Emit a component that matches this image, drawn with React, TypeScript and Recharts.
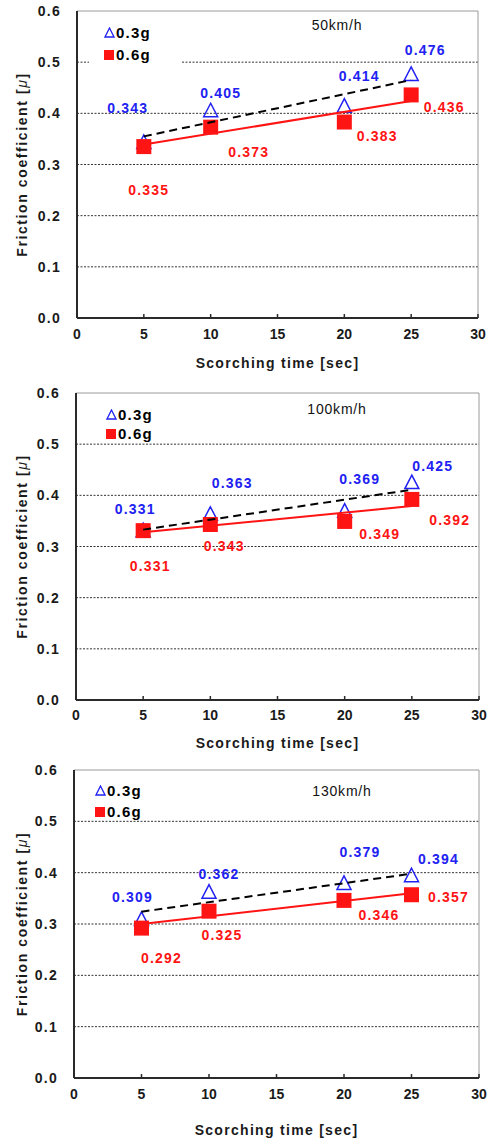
import React from 'react'
import {
  ScatterChart, Scatter, XAxis, YAxis, CartesianGrid, ReferenceLine, LabelList, Legend,
} from 'recharts'

// scorching times and axis ticks
const timeSec = [5, 10, 20, 25]
const trendSec = [5, 25]
const xTicks = [0, 5, 10, 15, 20, 25, 30]
const yTicks = [0, 0.1, 0.2, 0.3, 0.4, 0.5, 0.6]
const gridValues = [0.1, 0.2, 0.3, 0.4, 0.5]

const speedTitles = ['50km/h', '100km/h', '130km/h']
const seriesNames = ['0.3g', '0.6g']

// 50 km/h
const mu03_50 = [0.343, 0.405, 0.414, 0.476]
const mu06_50 = [0.335, 0.373, 0.383, 0.436]
const trend03_50 = [0.355, 0.465]
const trend06_50 = [0.339, 0.424]

// 100 km/h
const mu03_100 = [0.331, 0.363, 0.369, 0.425]
const mu06_100 = [0.331, 0.343, 0.349, 0.392]
const trend03_100 = [0.333, 0.411]
const trend06_100 = [0.328, 0.379]

// 130 km/h
const mu03_130 = [0.309, 0.362, 0.379, 0.394]
const mu06_130 = [0.292, 0.325, 0.346, 0.357]
const trend03_130 = [0.324, 0.398]
const trend06_130 = [0.300, 0.360]

const BLUE = '#2121f2'
const RED = '#ff1414'
const INK = '#1a1a1a'
const FONT = '"Liberation Sans", Arial, sans-serif'

// label nudges (px) from each marker centre
const shift03_50 = [[-16, -34], [10, -18], [15, -30], [14, -24]]
const shift06_50 = [[5, 43], [38, 25], [33, 14], [33, 12]]
const shift03_100 = [[-8, -22], [22, -31], [15, -32], [21, -17]]
const shift06_100 = [[7, 35], [14, 22], [35, 13], [38, 21]]
const shift03_130 = [[-9, -22], [10, -18], [16, -31], [27, -17]]
const shift06_130 = [[20, 30], [13, 24], [35, 15], [37, 2]]

const panels = [
  {
    title: speedTitles[0], a: mu03_50, b: mu06_50, ta: trend03_50, tb: trend06_50,
    sa: shift03_50, sb: shift06_50,
    top: 0, height: 380, plotTop: 11, plotBottom: 318, left: 77, right: 478,
    tickGap: 16, titleGap: 45, titleX: 337, titleY: 25,
    legendX: 89, legendY: 18, legendPad: 15, rowH: 22, legendBg: '#fff',
  },
  {
    title: speedTitles[1], a: mu03_100, b: mu06_100, ta: trend03_100, tb: trend06_100,
    sa: shift03_100, sb: shift06_100,
    top: 380, height: 380, plotTop: 13, plotBottom: 320, left: 76, right: 479,
    tickGap: 15, titleGap: 43, titleX: 337, titleY: 29,
    legendX: 96, legendY: 22, legendPad: 10, rowH: 19, legendBg: 'transparent',
  },
  {
    title: speedTitles[2], a: mu03_130, b: mu06_130, ta: trend03_130, tb: trend06_130,
    sa: shift03_130, sb: shift06_130,
    top: 760, height: 378, plotTop: 10, plotBottom: 318, left: 74, right: 479,
    tickGap: 16, titleGap: 52, titleX: 342, titleY: 31,
    legendX: 85, legendY: 17, legendPad: 10, rowH: 21, legendBg: 'transparent',
  },
]

const toPoints = (xs: number[], ys: number[]) => xs.map((x, i) => ({ x, y: ys[i] }))

const Triangle = (p: any) => (
  <path
    d={`M${p.cx},${p.cy - 7.5} L${p.cx + 7},${p.cy + 6} L${p.cx - 7},${p.cy + 6} Z`}
    fill="none" stroke={BLUE} strokeWidth={1.5}
  />
)

const Square = (p: any) => (
  <rect x={p.cx - 7.5} y={p.cy - 7.5} width={15} height={15} fill={RED} />
)

const NoShape = () => <g />

function valueLabel(shifts: number[][], color: string) {
  return (p: any) => {
    const vb = p.viewBox ?? p
    const cx = vb.x + (vb.width ?? 0) / 2
    const cy = vb.y + (vb.height ?? 0) / 2
    const [dx, dy] = shifts[p.index] ?? [0, 0]
    return (
      <text
        x={cx + dx} y={cy + dy} textAnchor="middle" dominantBaseline="central"
        fill={color} fontFamily={FONT} fontWeight="bold" fontSize={14} letterSpacing={1.2}
      >
        {Number(p.value).toFixed(3)}
      </text>
    )
  }
}

function LegendBox({ pad, rowH, bg }: { pad: number; rowH: number; bg: string }) {
  const text = { fontFamily: FONT, fontWeight: 700, fontSize: 15, letterSpacing: 1.2, color: '#000' }
  return (
    <div style={{ background: bg, width: 78, paddingTop: 3, paddingBottom: 3, paddingLeft: pad }}>
      <div style={{ display: 'flex', alignItems: 'center', height: rowH, ...text }}>
        <svg width={11} height={11} style={{ marginRight: 1 }}>
          <path d="M5.5,1 L10,10 L1,10 Z" fill="none" stroke={BLUE} strokeWidth={1.3} />
        </svg>
        {seriesNames[0]}
      </div>
      <div style={{ display: 'flex', alignItems: 'center', height: rowH, ...text }}>
        <svg width={11} height={11} style={{ marginRight: 1 }}>
          <rect x={0} y={1} width={10} height={10} fill={RED} />
        </svg>
        {seriesNames[1]}
      </div>
    </div>
  )
}

function Panel({ cfg }: { cfg: typeof panels[number] }) {
  const xAxisH = cfg.height - cfg.plotBottom
  return (
    <div style={{ position: 'absolute', left: 0, top: cfg.top, width: 495, height: cfg.height }}>
      <ScatterChart
        width={495} height={cfg.height}
        margin={{ top: cfg.plotTop, right: 495 - cfg.right, bottom: 0, left: 0 }}
      >
        <CartesianGrid
          horizontal vertical={false} horizontalValues={gridValues}
          stroke="#333" strokeDasharray="2 1.5" strokeWidth={1}
        />
        <XAxis
          type="number" dataKey="x" domain={[0, 30]} ticks={xTicks} height={xAxisH}
          axisLine={{ stroke: '#2a2a2a', strokeWidth: 2 }} tickLine={false} tickSize={0} tickMargin={0}
          tick={(t: any) => (
            <g>
              <line x1={t.x} x2={t.x} y1={t.y} y2={t.y - 4} stroke="#2a2a2a" strokeWidth={1.5} />
              <text
                x={t.x} y={t.y + cfg.tickGap} textAnchor="middle" dominantBaseline="central"
                fill={INK} fontFamily={FONT} fontWeight="bold" fontSize={14}
              >
                {t.payload.value}
              </text>
            </g>
          )}
          label={{
            content: (p: any) => {
              const vb = p.viewBox
              return (
                <text
                  x={vb.x + vb.width / 2} y={vb.y + cfg.titleGap} textAnchor="middle" dominantBaseline="central"
                  fill={INK} fontFamily={FONT} fontWeight="bold" fontSize={14} letterSpacing={1.3}
                >
                  Scorching time [sec]
                </text>
              )
            },
          }}
        />
        <YAxis
          type="number" dataKey="y" domain={[0, 0.6]} ticks={yTicks} width={cfg.left}
          axisLine={{ stroke: '#2a2a2a', strokeWidth: 2 }} tickLine={false} tickSize={0} tickMargin={16}
          tick={(t: any) => (
            <text
              x={t.x} y={t.y} textAnchor="end" dominantBaseline="central"
              fill={INK} fontFamily={FONT} fontWeight="bold" fontSize={14} letterSpacing={1.3}
            >
              {Number(t.payload.value).toFixed(1)}
            </text>
          )}
          label={{
            content: (p: any) => {
              const vb = p.viewBox
              const cy = vb.y + vb.height / 2
              return (
                <text
                  x={22} y={cy} transform={`rotate(-90 22 ${cy})`} textAnchor="middle" dominantBaseline="central"
                  fill={INK} fontFamily={FONT} fontWeight="bold" fontSize={14} letterSpacing={1.6}
                >
                  Friction coefficient [<tspan fontStyle="italic" fontWeight="normal">μ</tspan>]
                </text>
              )
            },
          }}
        />
        <ReferenceLine y={0.6} stroke="#9a9a9a" strokeWidth={1} />
        <ReferenceLine x={30} stroke="#9a9a9a" strokeWidth={1} />
        <Legend
          layout="horizontal" verticalAlign="middle" align="center"
          wrapperStyle={{ top: cfg.legendY, left: cfg.legendX, width: 78 }}
          content={() => <LegendBox pad={cfg.legendPad} rowH={cfg.rowH} bg={cfg.legendBg} />}
        />
        <Scatter data={toPoints(timeSec, cfg.a)} shape={Triangle} isAnimationActive={false}>
          <LabelList dataKey="y" content={valueLabel(cfg.sa, BLUE)} />
        </Scatter>
        <Scatter data={toPoints(timeSec, cfg.b)} shape={Square} isAnimationActive={false}>
          <LabelList dataKey="y" content={valueLabel(cfg.sb, RED)} />
        </Scatter>
        <Scatter
          data={toPoints(trendSec, cfg.tb)} shape={NoShape} isAnimationActive={false}
          line={{ stroke: RED, strokeWidth: 2 }} legendType="none"
        />
        <Scatter
          data={toPoints(trendSec, cfg.ta)} shape={NoShape} isAnimationActive={false}
          line={{ stroke: '#000', strokeWidth: 2, strokeDasharray: '8 5' }} legendType="none"
        />
      </ScatterChart>
      <div
        style={{
          position: 'absolute', left: cfg.titleX, top: cfg.titleY, transform: 'translate(-50%, -50%)',
          fontFamily: FONT, fontSize: 14, letterSpacing: 0.8, color: '#111', whiteSpace: 'nowrap',
        }}
      >
        {cfg.title}
      </div>
    </div>
  )
}

export default function App() {
  return (
    <div style={{ position: 'absolute', left: 0, top: 0, width: 495, height: 1138, background: '#fff' }}>
      {panels.map((cfg) => (
        <Panel key={cfg.title} cfg={cfg} />
      ))}
    </div>
  )
}
